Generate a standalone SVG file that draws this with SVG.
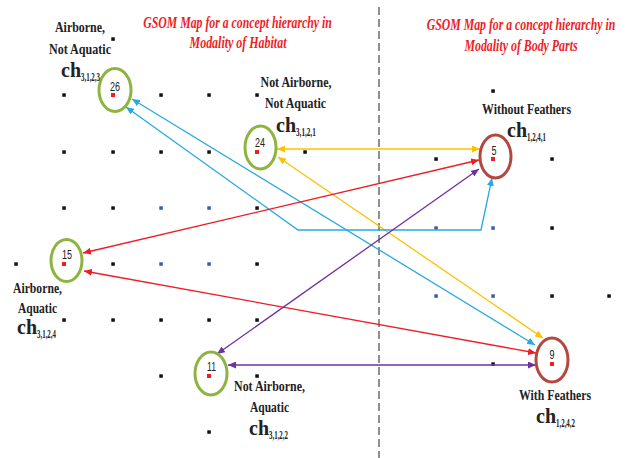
<svg xmlns="http://www.w3.org/2000/svg" width="629" height="458" viewBox="0 0 629 458">
<style>
.bg{fill:#fff}
.d{fill:#111}
.db{fill:#3A5BA8}
.dr{fill:#F01E24}
.g{fill:none;stroke:#8DB43F;stroke-width:3}
.b{fill:none;stroke:#B4473F;stroke-width:3}
.num{font-family:"Liberation Sans",Arial,sans-serif;font-size:12px;fill:#222;text-anchor:middle}
.lbl{font-family:"Liberation Serif","Times New Roman",serif;font-weight:bold;font-size:15px;fill:#222;text-anchor:middle}
.ch{font-family:"Liberation Serif","Times New Roman",serif;font-weight:bold;font-size:20px;fill:#222}
.sub{font-family:"Liberation Serif","Times New Roman",serif;font-weight:bold;font-size:13.5px;fill:#222}
.ttl{font-family:"Liberation Serif","Times New Roman",serif;font-weight:bold;font-style:italic;font-size:16px;fill:#EE1C25;text-anchor:middle}
.c{fill:none;stroke-width:1.3}
.cy{stroke:#FFC000}
.cb{stroke:#29A9E1}
.cr{stroke:#EE1C25}
.cp{stroke:#7030A0}
.dash{stroke:#555;stroke-width:1.3;stroke-dasharray:8 4;fill:none}
</style>
<defs>
<marker id="ay" markerUnits="userSpaceOnUse" markerWidth="9" markerHeight="7" refX="8" refY="3.5" orient="auto-start-reverse"><path d="M0,0 L8,3.5 L0,7 z" fill="#FFC000"/></marker>
<marker id="ab" markerUnits="userSpaceOnUse" markerWidth="9" markerHeight="7" refX="8" refY="3.5" orient="auto-start-reverse"><path d="M0,0 L8,3.5 L0,7 z" fill="#29A9E1"/></marker>
<marker id="ar" markerUnits="userSpaceOnUse" markerWidth="9" markerHeight="7" refX="8" refY="3.5" orient="auto-start-reverse"><path d="M0,0 L8,3.5 L0,7 z" fill="#EE1C25"/></marker>
<marker id="ap" markerUnits="userSpaceOnUse" markerWidth="9" markerHeight="7" refX="8" refY="3.5" orient="auto-start-reverse"><path d="M0,0 L8,3.5 L0,7 z" fill="#7030A0"/></marker>
</defs>
<rect class="bg" x="0" y="0" width="629" height="458"/>

<g id="divider"><line class="dash" x1="379" y1="7" x2="379" y2="458"/></g>

<g id="titles">
<text class="ttl" transform="translate(237.5,28) scale(0.74,1)" x="0" y="0" textLength="255" lengthAdjust="spacingAndGlyphs">GSOM Map for a concept hierarchy in</text>
<text class="ttl" transform="translate(238,48) scale(0.74,1)" x="0" y="0" textLength="131" lengthAdjust="spacingAndGlyphs">Modality of Habitat</text>
<text class="ttl" transform="translate(521,30) scale(0.74,1)" x="0" y="0" textLength="255" lengthAdjust="spacingAndGlyphs">GSOM Map for a concept hierarchy in</text>
<text class="ttl" transform="translate(521,51) scale(0.74,1)" x="0" y="0" textLength="153" lengthAdjust="spacingAndGlyphs">Modality of Body Parts</text>
</g>

<g id="grid-dots">
<rect class="d" x="111.3" y="37.3" width="3.5" height="3.5"/>
<rect class="d" x="62.3" y="93.3" width="3.5" height="3.5"/>
<rect class="d" x="159.3" y="93.3" width="3.5" height="3.5"/>
<rect class="d" x="207.3" y="93.3" width="3.5" height="3.5"/>
<rect class="d" x="255.3" y="93.3" width="3.5" height="3.5"/>
<rect class="d" x="62.3" y="150.3" width="3.5" height="3.5"/>
<rect class="d" x="111.3" y="150.3" width="3.5" height="3.5"/>
<rect class="d" x="159.3" y="150.3" width="3.5" height="3.5"/>
<rect class="d" x="207.3" y="150.3" width="3.5" height="3.5"/>
<rect class="d" x="303.3" y="150.3" width="3.5" height="3.5"/>
<rect class="d" x="62.3" y="206.3" width="3.5" height="3.5"/>
<rect class="d" x="111.3" y="206.3" width="3.5" height="3.5"/>
<rect class="db" x="159.3" y="206.3" width="3.5" height="3.5"/>
<rect class="db" x="207.3" y="206.3" width="3.5" height="3.5"/>
<rect class="d" x="255.3" y="206.3" width="3.5" height="3.5"/>
<rect class="d" x="14.3" y="262.3" width="3.5" height="3.5"/>
<rect class="d" x="111.3" y="262.3" width="3.5" height="3.5"/>
<rect class="db" x="159.3" y="262.3" width="3.5" height="3.5"/>
<rect class="db" x="207.3" y="262.3" width="3.5" height="3.5"/>
<rect class="d" x="255.3" y="262.3" width="3.5" height="3.5"/>
<rect class="d" x="62.3" y="318.3" width="3.5" height="3.5"/>
<rect class="d" x="111.3" y="318.3" width="3.5" height="3.5"/>
<rect class="d" x="159.3" y="318.3" width="3.5" height="3.5"/>
<rect class="d" x="207.3" y="318.3" width="3.5" height="3.5"/>
<rect class="d" x="255.3" y="318.3" width="3.5" height="3.5"/>
<rect class="d" x="159.3" y="374.3" width="3.5" height="3.5"/>
<rect class="d" x="255.3" y="374.3" width="3.5" height="3.5"/>
<rect class="d" x="207.3" y="430.3" width="3.5" height="3.5"/>
<rect class="d" x="491.3" y="89.3" width="3.5" height="3.5"/>
<rect class="d" x="434.3" y="157.3" width="3.5" height="3.5"/>
<rect class="d" x="550.3" y="157.3" width="3.5" height="3.5"/>
<rect class="db" x="434.3" y="226.3" width="3.5" height="3.5"/>
<rect class="db" x="491.3" y="226.3" width="3.5" height="3.5"/>
<rect class="d" x="550.3" y="226.3" width="3.5" height="3.5"/>
<rect class="db" x="434.3" y="294.3" width="3.5" height="3.5"/>
<rect class="db" x="491.3" y="294.3" width="3.5" height="3.5"/>
<rect class="d" x="550.3" y="294.3" width="3.5" height="3.5"/>
<rect class="d" x="607.3" y="294.3" width="3.5" height="3.5"/>
<rect class="d" x="491.3" y="362.3" width="3.5" height="3.5"/>
</g>

<g id="connectors">
<line class="c cy" x1="277" y1="149" x2="480" y2="149" marker-start="url(#ay)" marker-end="url(#ay)"/>
<line class="c cy" x1="278" y1="157" x2="543" y2="338" marker-start="url(#ay)" marker-end="url(#ay)"/>
<line class="c cb" x1="132" y1="99" x2="535" y2="345" marker-start="url(#ab)" marker-end="url(#ab)"/>
<polyline class="c cb" points="126,107 298,230 481,230 492,178" marker-start="url(#ab)" marker-end="url(#ab)"/>
<line class="c cr" x1="479" y1="160" x2="83" y2="253" marker-start="url(#ar)" marker-end="url(#ar)"/>
<line class="c cr" x1="84" y1="271" x2="536" y2="353" marker-start="url(#ar)" marker-end="url(#ar)"/>
<line class="c cp" x1="217" y1="354" x2="479" y2="169" marker-start="url(#ap)" marker-end="url(#ap)"/>
<line class="c cp" x1="228" y1="365" x2="536" y2="365" marker-start="url(#ap)" marker-end="url(#ap)"/>
</g>

<g id="node-26">
<ellipse class="g" cx="115" cy="90" rx="16" ry="21.5"/>
<rect class="dr" x="111" y="93" width="4" height="4"/>
<text class="num" x="115" y="91" textLength="10" lengthAdjust="spacingAndGlyphs">26</text>
<text class="lbl" x="80" y="32" textLength="50" lengthAdjust="spacingAndGlyphs">Airborne,</text>
<text class="lbl" x="80" y="54" textLength="62" lengthAdjust="spacingAndGlyphs">Not Aquatic</text>
<text class="ch" x="61" y="77">ch</text>
<text class="sub" transform="translate(81,81) scale(0.52,1)" textLength="36.5" lengthAdjust="spacingAndGlyphs">3,1,2,3</text>
</g>

<g id="node-24">
<ellipse class="g" cx="260.5" cy="147.5" rx="15.5" ry="21.5"/>
<rect class="dr" x="255" y="150" width="4" height="4"/>
<text class="num" x="260" y="147" textLength="10" lengthAdjust="spacingAndGlyphs">24</text>
<text class="lbl" x="296" y="87" textLength="71" lengthAdjust="spacingAndGlyphs">Not Airborne,</text>
<text class="lbl" x="295.5" y="108" textLength="61" lengthAdjust="spacingAndGlyphs">Not Aquatic</text>
<text class="ch" x="276" y="132">ch</text>
<text class="sub" transform="translate(296,136) scale(0.52,1)" textLength="38" lengthAdjust="spacingAndGlyphs">3,1,2,1</text>
</g>

<g id="node-15">
<ellipse class="g" cx="66.5" cy="260.5" rx="15.5" ry="21"/>
<rect class="dr" x="62" y="262" width="4" height="4"/>
<text class="num" x="67" y="259" textLength="10" lengthAdjust="spacingAndGlyphs">15</text>
<text class="lbl" x="37.5" y="293" textLength="49" lengthAdjust="spacingAndGlyphs">Airborne,</text>
<text class="lbl" x="37.5" y="313" textLength="39" lengthAdjust="spacingAndGlyphs">Aquatic</text>
<text class="ch" x="17" y="334">ch</text>
<text class="sub" transform="translate(37,338) scale(0.52,1)" textLength="36.5" lengthAdjust="spacingAndGlyphs">3,1,2,4</text>
</g>

<g id="node-11">
<ellipse class="g" cx="211" cy="373.5" rx="16" ry="21.5"/>
<rect class="dr" x="207" y="374" width="4" height="4"/>
<text class="num" x="211.5" y="371" textLength="9" lengthAdjust="spacingAndGlyphs">11</text>
<text class="lbl" x="269.5" y="391" textLength="71" lengthAdjust="spacingAndGlyphs">Not Airborne,</text>
<text class="lbl" x="269.5" y="412" textLength="39" lengthAdjust="spacingAndGlyphs">Aquatic</text>
<text class="ch" x="249" y="435">ch</text>
<text class="sub" transform="translate(269,439) scale(0.52,1)" textLength="36.5" lengthAdjust="spacingAndGlyphs">3,1,2,2</text>
</g>

<g id="node-5">
<ellipse class="b" cx="495.5" cy="156.5" rx="15.5" ry="21.5"/>
<rect class="dr" x="491" y="157" width="4" height="4"/>
<text class="num" x="494" y="155" textLength="5" lengthAdjust="spacingAndGlyphs">5</text>
<text class="lbl" x="526.5" y="114" textLength="89" lengthAdjust="spacingAndGlyphs">Without Feathers</text>
<text class="ch" x="507" y="137">ch</text>
<text class="sub" transform="translate(527,141) scale(0.52,1)" textLength="36.5" lengthAdjust="spacingAndGlyphs">1,2,4,1</text>
</g>

<g id="node-9">
<ellipse class="b" cx="552" cy="360" rx="16" ry="22"/>
<rect class="dr" x="550" y="362" width="4" height="4"/>
<text class="num" x="552" y="359" textLength="5" lengthAdjust="spacingAndGlyphs">9</text>
<text class="lbl" x="555" y="400" textLength="72" lengthAdjust="spacingAndGlyphs">With Feathers</text>
<text class="ch" x="536" y="423">ch</text>
<text class="sub" transform="translate(556,427) scale(0.52,1)" textLength="36.5" lengthAdjust="spacingAndGlyphs">1,2,4,2</text>
</g>
</svg>
